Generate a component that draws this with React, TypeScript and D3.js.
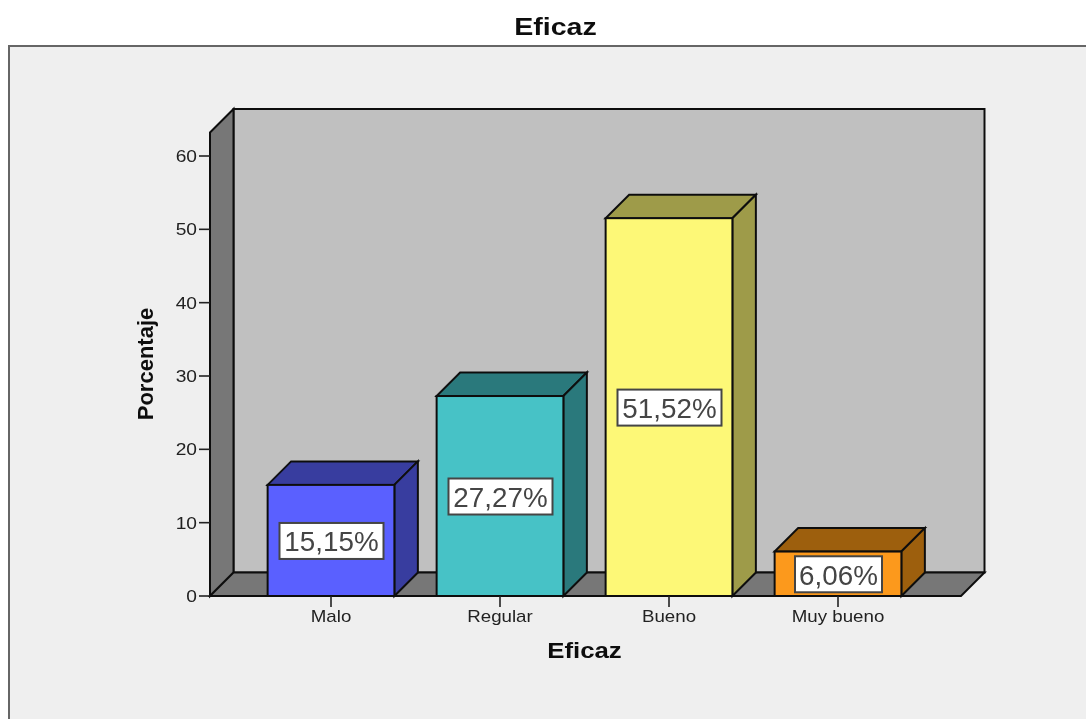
import React from "react";
import * as d3 from "d3";

const title = "Eficaz";
const xTitle = "Eficaz";
const yTitle = "Porcentaje";
const categories = ["Malo", "Regular", "Bueno", "Muy bueno"];
const values = [15.15, 27.27, 51.52, 6.06];
const valueLabels = ["15,15%", "27,27%", "51,52%", "6,06%"];
const frontColors = ["#5a60ff", "#47c2c6", "#fdf877", "#fc991c"];
const topColors = ["#383c9f", "#2c797c", "#9e9b4a", "#9d5f11"];
const yTicks = [0, 10, 20, 30, 40, 50, 60];

const FONT = "Liberation Sans, Arial, sans-serif";
const DX = 23.5;
const DY = 23.5;
const STROKE = "#111";
const SW = 2;

function Txt(props: {
  x: number;
  y: number;
  sx?: number;
  rotate?: number;
  size: number;
  bold?: boolean;
  anchor?: string;
  fill?: string;
  children: React.ReactNode;
}) {
  const { x, y, sx = 1, rotate = 0, size, bold, anchor = "middle", fill = "#222", children } = props;
  return (
    <text
      transform={`translate(${x},${y}) rotate(${rotate}) scale(${sx},1)`}
      textAnchor={anchor}
      fontFamily={FONT}
      fontSize={size}
      fontWeight={bold ? "bold" : "normal"}
      fill={fill}
    >
      {children}
    </text>
  );
}

export default function App() {
  const y = d3.scaleLinear().domain([0, 60]).range([596, 156]);
  const x = d3
    .scaleBand<string>()
    .domain(categories)
    .range([246.5, 922.5])
    .paddingInner(0.25)
    .paddingOuter(0.125);
  const left = 210;
  const right = 961;
  const bottom = y(0);
  const top = 132.5;
  const poly = (pts: [number, number][]) => pts.map((p) => p.join(",")).join(" ");

  return (
    <svg
      width={1086}
      height={719}
      style={{ position: "absolute", left: 0, top: 0, display: "block", background: "#fff" }}
    >
      <defs>
        <filter id="soft" x="0" y="0" width="100%" height="100%">
          <feGaussianBlur stdDeviation="0.45" />
        </filter>
      </defs>
      <g filter="url(#soft)">
        <rect x={0} y={0} width={1086} height={719} fill="#fff" />
        <Txt x={555.5} y={35} sx={1.19} size={24} bold fill="#111">
          {title}
        </Txt>
        <rect x={9} y={46} width={1090} height={690} fill="#efefef" stroke="#666" strokeWidth={2} />

        {/* back wall, side wall, floor */}
        <polygon
          points={poly([[left + DX, top - DY], [right + DX, top - DY], [right + DX, bottom - DY], [left + DX, bottom - DY]])}
          fill="#c0c0c0" stroke={STROKE} strokeWidth={SW}
        />
        <polygon
          points={poly([[left, top], [left + DX, top - DY], [left + DX, bottom - DY], [left, bottom]])}
          fill="#777" stroke={STROKE} strokeWidth={SW}
        />
        <polygon
          points={poly([[left, bottom], [left + DX, bottom - DY], [right + DX, bottom - DY], [right, bottom]])}
          fill="#777" stroke={STROKE} strokeWidth={SW}
        />

        {/* y axis */}
        {yTicks.map((t) => (
          <g key={t}>
            <line x1={left - 11} x2={left} y1={y(t)} y2={y(t)} stroke="#222" strokeWidth={1.6} />
            <Txt x={left - 13} y={y(t) + 6} sx={1.2} size={16} anchor="end">
              {t}
            </Txt>
          </g>
        ))}
        <Txt x={153} y={364} rotate={-90} sx={1.0} size={22} bold fill="#111">
          {yTitle}
        </Txt>

        {/* bars */}
        {categories.map((c, i) => {
          const x0 = x(c)!;
          const w = x.bandwidth();
          const yv = y(values[i]);
          const cx = x0 + w / 2;
          const boxW = valueLabels[i].length === 6 ? 104 : 87;
          const boxH = 36;
          const boxY = (yv + bottom) / 2 - boxH / 2 + 0.5;
          return (
            <g key={c}>
              <polygon
                points={poly([[x0, yv], [x0 + DX, yv - DY], [x0 + w + DX, yv - DY], [x0 + w, yv]])}
                fill={topColors[i]} stroke={STROKE} strokeWidth={SW}
              />
              <polygon
                points={poly([[x0 + w, yv], [x0 + w + DX, yv - DY], [x0 + w + DX, bottom - DY], [x0 + w, bottom]])}
                fill={topColors[i]} stroke={STROKE} strokeWidth={SW}
              />
              <rect x={x0} y={yv} width={w} height={bottom - yv} fill={frontColors[i]} stroke={STROKE} strokeWidth={SW} />
              <rect x={cx - boxW / 2 + 0.5} y={boxY} width={boxW} height={boxH} fill="#fff" stroke="#444" strokeWidth={2} />
              <Txt x={cx + 0.5} y={boxY + 28.5} sx={1.03} size={27} fill="#444">
                {valueLabels[i]}
              </Txt>
              <line x1={cx} x2={cx} y1={bottom} y2={bottom + 11} stroke="#222" strokeWidth={1.6} />
              <Txt x={cx} y={622} sx={1.17} size={16}>
                {c}
              </Txt>
            </g>
          );
        })}

        <Txt x={584.5} y={658} sx={1.2} size={21.5} bold fill="#111">
          {xTitle}
        </Txt>
      </g>
    </svg>
  );
}
